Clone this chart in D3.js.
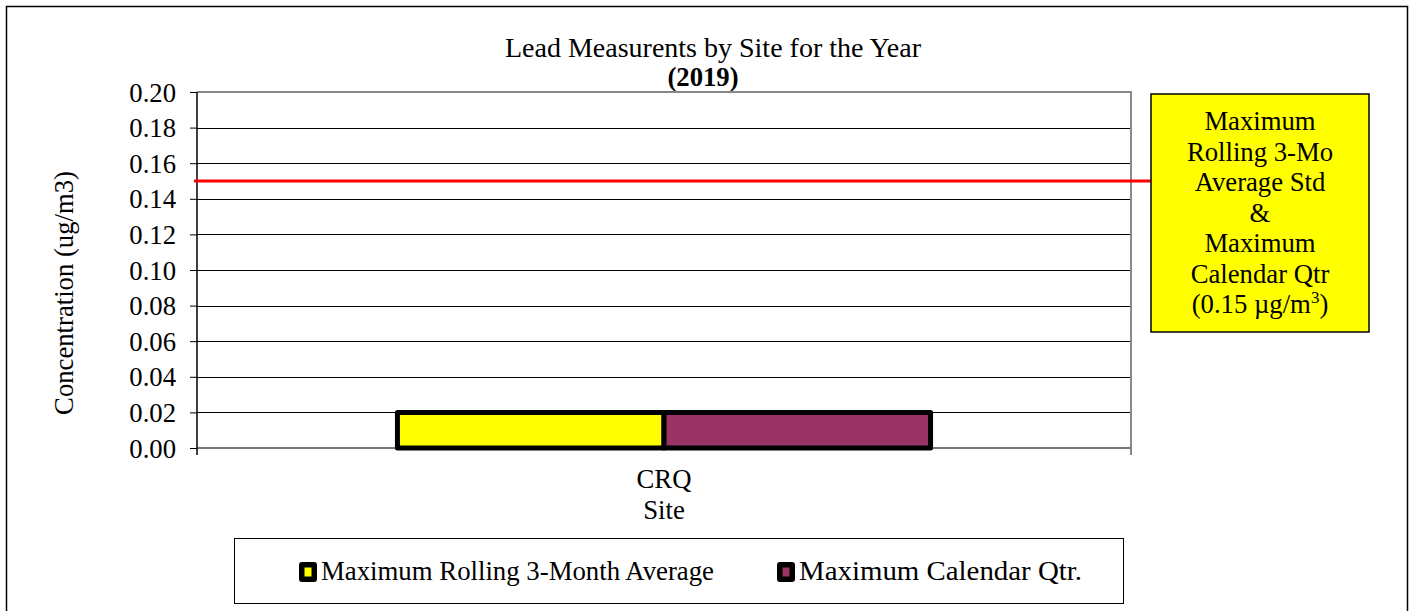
<!DOCTYPE html>
<html><head><meta charset="utf-8">
<script src="https://cdn.jsdelivr.net/npm/d3@7"></script>
<style>body{margin:0;background:#fff}svg{display:block}</style>
</head><body><svg id="c" width="1414" height="611"></svg>
<script>
const categories = ["CRQ"];
const seriesNames = ["Maximum Rolling 3-Month Average", "Maximum Calendar Qtr."];
const seriesColors = ["#ffff00", "#993366"];
const rolling3Mo = [0.02];
const calendarQtr = [0.02];
const standard = 0.15;
const yTicks = [0, 0.02, 0.04, 0.06, 0.08, 0.10, 0.12, 0.14, 0.16, 0.18, 0.20];
const titleLines = ["Lead Measurents by Site for the Year", "(2019)"];
const stdLabel = ["Maximum", "Rolling 3-Mo", "Average Std", "&", "Maximum", "Calendar Qtr"];

const FONT = "Liberation Serif";
const FS = 26.7;
const svg = d3.select("#c").attr("font-family", FONT);

svg.append("rect").attr("x",6.5).attr("y",6.5).attr("width",1401).attr("height",610).attr("fill","#fff").attr("stroke","#000").attr("stroke-width",1.5);

const L=197, R=1131, T=92, B=448;
const y = d3.scaleLinear().domain([0,0.2]).range([B,T]);
const x0 = d3.scaleBand().domain(categories).range([L,R]).paddingInner(0).paddingOuter(0.376);
const x1 = d3.scaleBand().domain(seriesNames).range([0,x0.bandwidth()]);

// title
svg.append("text").attr("x",713).attr("y",57).attr("text-anchor","middle").attr("font-size",28).text(titleLines[0]);
svg.append("text").attr("x",703).attr("y",86).attr("text-anchor","middle").attr("font-size",FS).attr("font-weight","bold").text(titleLines[1]);

// gridlines
svg.append("g").selectAll("line").data(yTicks.filter(d=>d>0&&d<0.2)).join("line")
  .attr("x1",L).attr("x2",R).attr("y1",d=>Math.round(y(d))+0.5).attr("y2",d=>Math.round(y(d))+0.5).attr("stroke","#000").attr("stroke-width",1);
// plot border top/right gray
svg.append("line").attr("x1",L).attr("x2",R+1).attr("y1",T).attr("y2",T).attr("stroke","#888").attr("stroke-width",2);
svg.append("line").attr("x1",R).attr("x2",R).attr("y1",T).attr("y2",B+7).attr("stroke","#888").attr("stroke-width",2);
svg.append("line").attr("x1",L).attr("x2",R).attr("y1",B).attr("y2",B).attr("stroke","#777").attr("stroke-width",2);

// y axis
const yAxis = d3.axisLeft(y).tickValues(yTicks).tickFormat(d3.format(".2f")).tickSize(7).tickPadding(14);
const ga = svg.append("g").attr("transform",`translate(${L},0)`).call(yAxis).attr("font-family",FONT).attr("font-size",FS);
ga.select(".domain").attr("d",`M0,${T}V${B+7}`).attr("stroke","#000").attr("stroke-width",1.5);
ga.selectAll(".tick line").attr("stroke","#000");
ga.selectAll(".tick text").attr("fill","#000").attr("dy","0.34em");

svg.append("text").attr("transform",`translate(73,293) rotate(-90)`).attr("text-anchor","middle").attr("font-size",FS).text("Concentration (ug/m3)");

// red standard line
svg.append("line").attr("x1",L-3).attr("x2",1151).attr("y1",y(standard)).attr("y2",y(standard)).attr("stroke","#ff0000").attr("stroke-width",3);

// bars
const vals = [rolling3Mo, calendarQtr];
const bars = svg.append("g");
categories.forEach((c,ci)=>{
  seriesNames.forEach((s,si)=>{
    bars.append("rect").attr("x",x0(c)+x1(s)).attr("y",y(vals[si][ci])).attr("width",x1.bandwidth()).attr("height",y(0)-y(vals[si][ci]))
      .attr("fill",seriesColors[si]).attr("stroke","#000").attr("stroke-width",5).attr("stroke-linejoin","round");
  });
  svg.append("text").attr("x",x0(c)+x0.bandwidth()/2).attr("y",488).attr("text-anchor","middle").attr("font-size",FS).text(c);
});
svg.append("text").attr("x",(L+R)/2).attr("y",519).attr("text-anchor","middle").attr("font-size",FS).text("Site");

// standard label box
svg.append("rect").attr("x",1151).attr("y",94).attr("width",218).attr("height",238).attr("fill","#ffff00").attr("stroke","#000").attr("stroke-width",1.5);
const lt = svg.append("g");
stdLabel.forEach((t,i)=>{
  lt.append("text").attr("x",1260).attr("y",130+i*30.5).attr("text-anchor","middle").attr("font-size",FS).text(t);
});
const last = lt.append("text").attr("x",1260).attr("y",130+6*30.5).attr("text-anchor","middle").attr("font-size",FS);
last.append("tspan").text("(0.15 µg/m");
last.append("tspan").attr("font-size",17).attr("dy",-10).text("3");
last.append("tspan").attr("dy",10).text(")");

// legend
svg.append("rect").attr("x",234.5).attr("y",538.5).attr("width",889).attr("height",65).attr("fill","#fff").attr("stroke","#000").attr("stroke-width",1);
const legX = [299, 777];
const legLen = [393, 283];
seriesNames.forEach((s,i)=>{
  svg.append("rect").attr("x",legX[i]).attr("y",562).attr("width",18).attr("height",20).attr("rx",3).attr("fill","#000");
  svg.append("rect").attr("x",legX[i]+5.5).attr("y",567.5).attr("width",7).attr("height",9).attr("fill",seriesColors[i]);
  svg.append("text").attr("x",legX[i]+22).attr("y",580).attr("font-size",FS).attr("textLength",legLen[i]).attr("lengthAdjust","spacingAndGlyphs").text(s);
});
</script></body></html>
